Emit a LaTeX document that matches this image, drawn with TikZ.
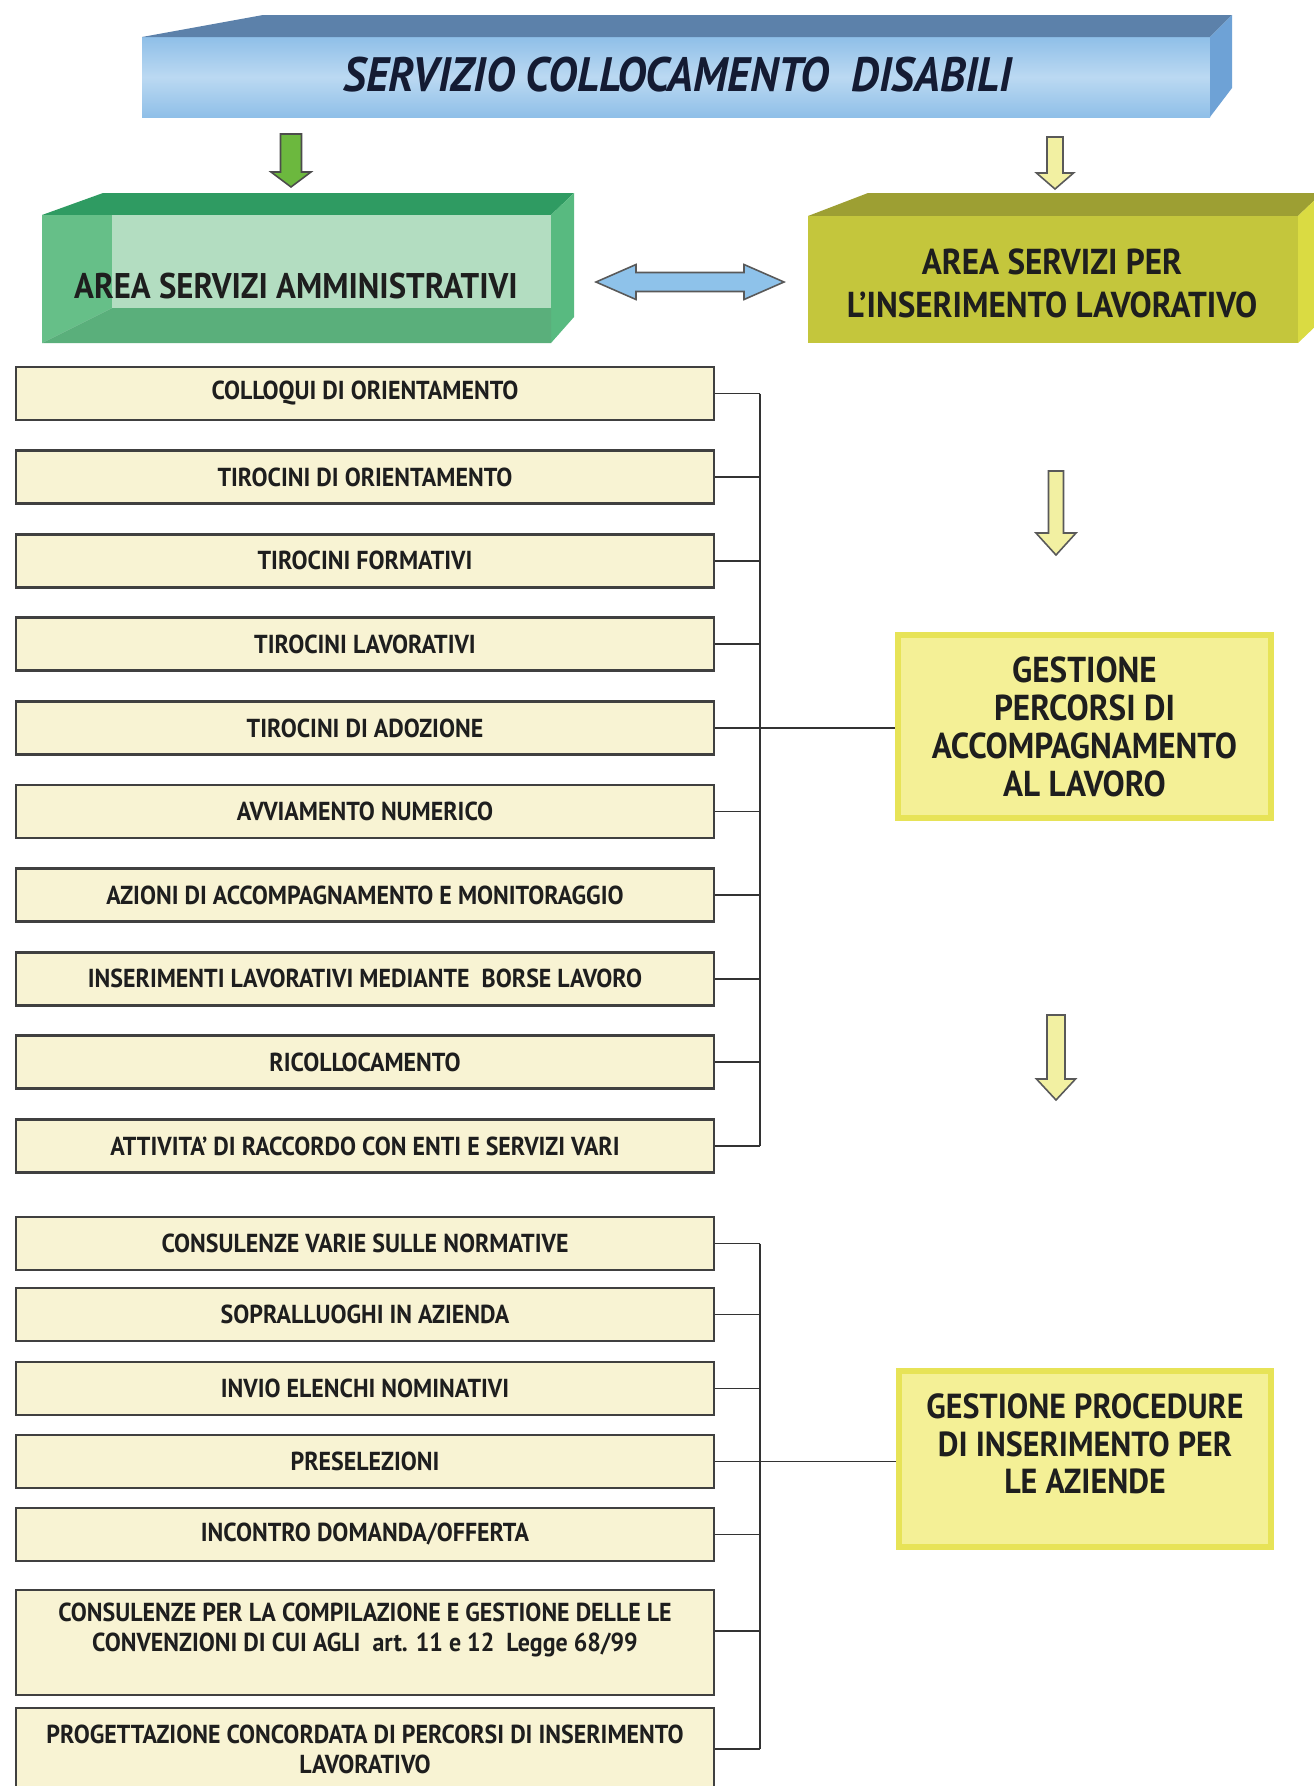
\documentclass[tikz,border=0pt]{standalone}
\usepackage{fontspec}
\setmainfont{PT Sans}[FakeStretch=0.92]
\usetikzlibrary{calc}

\definecolor{cream}{HTML}{F8F3D3}
\definecolor{boxline}{HTML}{404040}
\definecolor{linkgray}{HTML}{333333}
\definecolor{goldfill}{HTML}{F4F096}
\definecolor{goldedge}{HTML}{E7E357}
\definecolor{skyfront}{HTML}{8FBFE8}
\definecolor{skylight}{HTML}{BBD9F2}
\definecolor{skytop}{HTML}{5C81AA}
\definecolor{skyside}{HTML}{6EA2D6}
\definecolor{leaftop}{HTML}{2F9B62}
\definecolor{leafleft}{HTML}{66BF88}
\definecolor{leafbottom}{HTML}{5AAF7B}
\definecolor{leafinner}{HTML}{B3DDC1}
\definecolor{leafside}{HTML}{58BA80}
\definecolor{olivefront}{HTML}{C4C63C}
\definecolor{olivetop}{HTML}{9D9F33}
\definecolor{oliveside}{HTML}{DADB42}
\definecolor{arrowgreen}{HTML}{6CB83E}
\definecolor{arrowyellow}{HTML}{F2F0A2}
\definecolor{arrowblue}{HTML}{8EC2EA}
\definecolor{inkdark}{HTML}{1E1E1E}
\definecolor{titleink}{HTML}{141B33}

% downward block arrow: centre x, top, head start, tip, shaft half width, head half width, fill, edge
\newcommand{\blockdown}[8]{%
  \filldraw[fill=#7, draw=#8, line width=0.9pt, line join=miter]
    (#1-#5,#2) -- (#1+#5,#2) -- (#1+#5,#3) -- (#1+#6,#3) -- (#1,#4)
    -- (#1-#6,#3) -- (#1-#5,#3) -- cycle;}

\begin{document}
\begin{tikzpicture}[x=0.02cm, y=-0.02cm,
  item/.style={draw=boxline, line width=1.6pt, fill=cream, minimum width=13.96cm,
    minimum height=1.06cm, inner sep=0pt, text=inkdark,
    font=\fontsize{14.8}{17}\selectfont\bfseries, align=center},
  goal/.style={draw=goldedge, line width=3.4pt, fill=goldfill, minimum width=7.46cm, inner sep=0pt},
  goaltext/.style={text=inkdark, font=\fontsize{20.5}{21.6}\selectfont\bfseries, align=center, inner sep=0pt},
  link/.style={draw=linkgray, line width=1.1pt},
  bigtext/.style={text=inkdark, font=\fontsize{20.3}{24}\selectfont\bfseries, align=center, inner sep=0pt},
]
\useasboundingbox (0,0) rectangle (1313,1786);
\fill[white] (0,0) rectangle (1313,1786);

% ---- title bar ----
\shade[top color=skyfront, bottom color=skyfront, middle color=skylight] (142,37) rectangle (1210,117);
\fill[skytop] (142,37) -- (263,15) -- (1232,15) -- (1210,37) -- cycle;
\fill[skyside] (1210,37) -- (1232,15) -- (1232,88) -- (1210,117) -- cycle;
\node[text=titleink, font=\fontsize{27.5}{30}\selectfont\bfseries\itshape, inner sep=0pt] (title) at (678,75)
  {SERVIZIO COLLOCAMENTO\ \ DISABILI};

% ---- administrative area block ----
\fill[leaftop] (42,215) -- (103,193) -- (574,193) -- (551,215) -- cycle;
\fill[leafside] (551,215) -- (574,193) -- (574,317) -- (551,343) -- cycle;
\fill[leafleft] (42,215) -- (112,215) -- (112,308) -- (42,343) -- cycle;
\fill[leafbottom] (42,343) -- (112,308) -- (551,308) -- (551,343) -- cycle;
\fill[leafinner] (112,215) rectangle (551,308);
\node[bigtext] (admin) at (296,286) {AREA SERVIZI AMMINISTRATIVI};

% ---- work placement area block ----
\fill[olivetop] (808,216) -- (868,193) -- (1322,193) -- (1298,216) -- cycle;
\fill[oliveside] (1298,216) -- (1322,193) -- (1322,320) -- (1298,343) -- cycle;
\fill[olivefront] (808,216) rectangle (1298,343);
\node[bigtext, font=\fontsize{20.5}{24.5}\selectfont\bfseries] (work) at (1052,283)
  {AREA SERVIZI PER\\L’INSERIMENTO LAVORATIVO};

% ---- block arrows ----
\blockdown{291}{134}{172}{187}{10.5}{20}{arrowgreen}{black!70}
\blockdown{1055}{137}{173}{189}{8}{18.5}{arrowyellow}{black!65}
\blockdown{1056}{471}{533}{555}{7.5}{20}{arrowyellow}{black!65}
\blockdown{1056}{1015}{1079}{1100}{9}{19.5}{arrowyellow}{black!65}
\filldraw[fill=arrowblue, draw=black!65, line width=0.9pt]
  (596,282) -- (636,264.5) -- (636,272.5) -- (744,272.5) -- (744,264.5) -- (784,282)
  -- (744,299.5) -- (744,291.5) -- (636,291.5) -- (636,299.5) -- cycle;

% ---- first list ----
\node[item] (c1)  at (365,393.5)  {COLLOQUI DI ORIENTAMENTO};
\node[item] (c2)  at (365,477.1)  {TIROCINI DI ORIENTAMENTO};
\node[item] (c3)  at (365,560.7)  {TIROCINI FORMATIVI};
\node[item] (c4)  at (365,644.3)  {TIROCINI LAVORATIVI};
\node[item] (c5)  at (365,727.9)  {TIROCINI DI ADOZIONE};
\node[item] (c6)  at (365,811.5)  {AVVIAMENTO NUMERICO};
\node[item] (c7)  at (365,895.1)  {AZIONI DI ACCOMPAGNAMENTO E MONITORAGGIO};
\node[item] (c8)  at (365,978.7)  {INSERIMENTI LAVORATIVI MEDIANTE\ \ BORSE LAVORO};
\node[item] (c9)  at (365,1062.3) {RICOLLOCAMENTO};
\node[item] (c10) at (365,1145.9) {ATTIVITA’ DI RACCORDO CON ENTI E SERVIZI VARI};

\node[goal, minimum height=3.66cm, goaltext] (gp) at (1084.5,726.5)
  {GESTIONE\\PERCORSI DI\\ACCOMPAGNAMENTO\\AL LAVORO};

\coordinate (spineA) at (760,400);
\foreach \n in {c1,c2,c3,c4,c5,c6,c7,c8,c9,c10}
  \draw[link] (\n.east) -- (\n.east -| spineA);
\draw[link] (c1.east -| spineA) -- (c10.east -| spineA);
\draw[link] (c5.east) -- (c5.east -| gp.west);

% ---- second list ----
\node[item] (d1) at (365,1243.5) {CONSULENZE VARIE SULLE NORMATIVE};
\node[item] (d2) at (365,1314.5) {SOPRALLUOGHI IN AZIENDA};
\node[item] (d3) at (365,1388.5) {INVIO ELENCHI NOMINATIVI};
\node[item] (d4) at (365,1461.5) {PRESELEZIONI};
\node[item] (d5) at (365,1534.5) {INCONTRO DOMANDA/OFFERTA};
\node[item, minimum height=2.1cm] (d6) at (365,1642.5) {};
\node[text=inkdark, font=\fontsize{14.8}{17}\selectfont\bfseries, align=center, inner sep=0pt] (d6t)
  at ([yshift=0.25cm]d6.center)
  {CONSULENZE PER LA COMPILAZIONE E GESTIONE DELLE LE\\CONVENZIONI DI CUI AGLI\ \ art. 11 e 12\ \ Legge 68/99};
\node[item, minimum height=1.64cm] (d7) at (365,1749)
  {PROGETTAZIONE CONCORDATA DI PERCORSI DI INSERIMENTO\\LAVORATIVO};

\node[goal, minimum height=3.52cm] (gpr) at (1085,1459) {};
\node[goaltext, font=\fontsize{19.8}{21.4}\selectfont\bfseries] (gprt) at ([yshift=0.3cm]gpr.center)
  {GESTIONE PROCEDURE\\DI INSERIMENTO PER\\LE AZIENDE};

\coordinate (spineB) at (760,1300);
\foreach \n in {d1,d2,d3,d4,d5,d7}
  \draw[link] (\n.east) -- (\n.east -| spineB);
\draw[link] ([yshift=0.23cm]d6.east) -- ([yshift=0.23cm]d6.east -| spineB);
\draw[link] (d1.east -| spineB) -- (d7.east -| spineB);
\draw[link] (d4.east) -- (d4.east -| gpr.west);
\end{tikzpicture}
\end{document}
